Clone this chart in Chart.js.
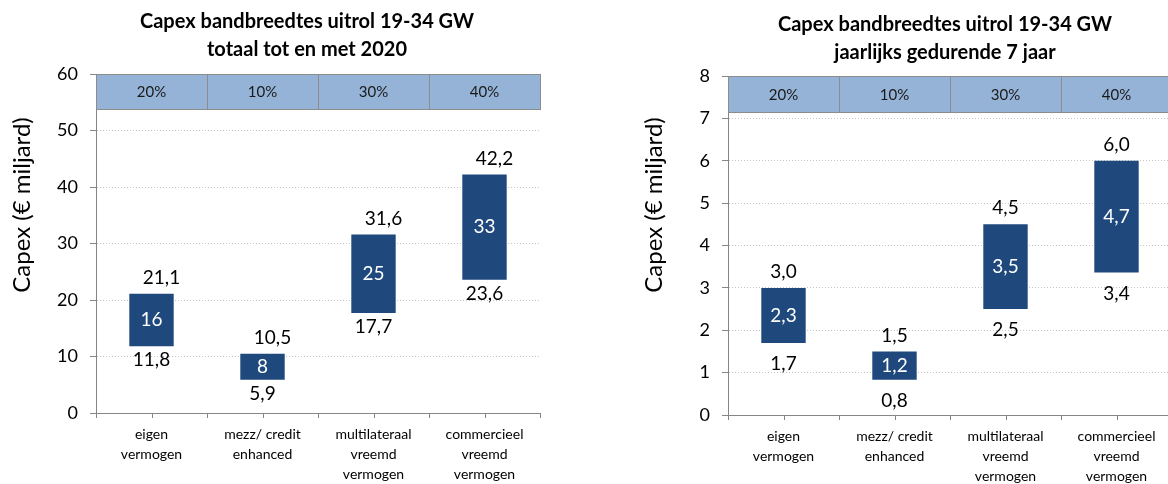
<!DOCTYPE html>
<html>
<head>
<meta charset="utf-8">
<script src="https://cdn.jsdelivr.net/npm/chart.js@4/dist/chart.umd.min.js"></script>
<style>
  html, body { margin: 0; padding: 0; width: 1168px; height: 484px; overflow: hidden; background: #fff; }
  body { position: relative; }
  .box { position: absolute; top: 0; height: 500px; }
</style>
</head>
<body>
<div class="box" style="left:0;width:584px"><canvas id="totalChart"></canvas></div>
<div class="box" style="left:632px;width:540px"><canvas id="yearChart"></canvas></div>
<script>
// categories and shares (same for both charts)
const categories = [
  ['eigen', 'vermogen'],
  ['mezz/ credit', 'enhanced'],
  ['multilateraal', 'vreemd', 'vermogen'],
  ['commercieel', 'vreemd', 'vermogen']
];
const shares = ['20%', '10%', '30%', '40%'];

// totaal tot en met 2020 (€ miljard)
const totalLow = [11.8, 5.9, 17.7, 23.6];
const totalHigh = [21.1, 10.5, 31.6, 42.2];
const totalMid = ['16', '8', '25', '33'];
const totalMax = 60;
const totalStep = 10;

// jaarlijks gedurende 7 jaar (€ miljard)
const yearLow = [1.7, 0.83, 2.5, 3.36];
const yearHigh = [3.0, 1.5, 4.5, 6.0];
const yearMid = ['2,3', '1,2', '3,5', '4,7'];
const yearMax = 8;
const yearStep = 1;

Chart.defaults.font.family = 'Lato';
Chart.defaults.color = '#000';

const axisGray = '#868686';

// comma decimals like the source
function fmt(v) {
  return v.toFixed(1).replace('.', ',');
}

// blue band with the shares on top of the plot
const shareBand = {
  id: 'shareBand',
  beforeDatasetsDraw(chart, args, o) {
    const { ctx, chartArea: a, scales: { x } } = chart;
    const w = a.width / o.labels.length;
    ctx.save();
    o.labels.forEach((t, i) => {
      const cx = x.getPixelForValue(i);
      ctx.fillStyle = '#95B3D7';
      ctx.fillRect(cx - w / 2, a.top, w, o.height);
      ctx.strokeStyle = '#8c8c8c';
      ctx.lineWidth = 1;
      ctx.strokeRect(Math.round(cx - w / 2) + 0.5, Math.round(a.top) + 0.5, w, o.height);
      ctx.fillStyle = '#1a1a1a';
      ctx.font = '15px Lato';
      ctx.textAlign = 'center';
      ctx.textBaseline = 'middle';
      ctx.fillText(t, cx, a.top + o.height / 2 + 1);
    });
    ctx.restore();
  }
};

// min / max / middle labels on the floating bars, plus tick marks under the bar centres
const barLabels = {
  id: 'barLabels',
  afterDatasetsDraw(chart, args, o) {
    const { ctx, chartArea: a } = chart;
    const meta = chart.getDatasetMeta(0);
    const data = chart.data.datasets[0].data;
    ctx.save();
    ctx.textAlign = 'center';
    ctx.textBaseline = 'middle';
    meta.data.forEach((bar, i) => {
      const top = Math.min(bar.y, bar.base);
      const bottom = Math.max(bar.y, bar.base);
      ctx.font = '19px Lato';
      ctx.fillStyle = '#000';
      ctx.fillText(fmt(data[i][1]), bar.x + o.dx, top - o.above);
      ctx.fillText(fmt(data[i][0]), bar.x, bottom + o.below);
      ctx.fillStyle = '#fff';
      ctx.fillText(o.mid[i], bar.x, (top + bottom) / 2);
      // small tick under the category centre
      ctx.strokeStyle = axisGray;
      ctx.lineWidth = 1;
      ctx.beginPath();
      ctx.moveTo(Math.round(bar.x) + 0.5, a.bottom);
      ctx.lineTo(Math.round(bar.x) + 0.5, a.bottom + 5);
      ctx.stroke();
    });
    ctx.restore();
  }
};

// chart title (two bold lines) and rotated y axis title
const titles = {
  id: 'titles',
  afterDraw(chart, args, o) {
    const { ctx, chartArea: a } = chart;
    ctx.save();
    ctx.fillStyle = '#000';
    ctx.textAlign = 'center';
    ctx.textBaseline = 'middle';
    ctx.font = 'bold 20px Lato';
    const cx = (a.left + a.right) / 2 + o.titleDx;
    o.title.forEach((line, i) => ctx.fillText(line, cx, o.titleTop + i * 28));
    ctx.translate(a.left - 74, a.top + o.axisDy);
    ctx.rotate(-Math.PI / 2);
    ctx.font = '24px Lato';
    ctx.fillText('Capex (€ miljard)', 0, 0);
    ctx.restore();
  }
};

function makeChart(id, title, low, high, mid, max, step, cfg) {
  const ctx = document.getElementById(id).getContext('2d');
  return new Chart(ctx, {
    type: 'bar',
    data: {
      labels: categories,
      datasets: [{
        data: low.map((v, i) => [v, high[i]]),
        backgroundColor: '#1F497D',
        borderWidth: 0,
        barPercentage: 0.4,
        categoryPercentage: 1
      }]
    },
    options: {
      responsive: true,
      maintainAspectRatio: false,
      animation: false,
      layout: { padding: { left: 0, right: cfg.padRight, top: cfg.plotTop, bottom: 0 } },
      plugins: {
        legend: { display: false },
        tooltip: { enabled: false },
        title: { display: false },
        shareBand: { labels: shares, height: cfg.bandHeight },
        barLabels: { mid: mid, dx: cfg.dx, above: cfg.above, below: cfg.below },
        titles: { title: title, titleDx: cfg.titleDx, titleTop: cfg.titleTop, axisDy: 205 - cfg.plotTop }
      },
      scales: {
        x: {
          afterFit(s) { s.height = cfg.xHeight; },
          border: { color: axisGray },
          grid: { drawOnChartArea: false, offset: true, tickLength: 5, color: axisGray, tickColor: axisGray },
          ticks: { font: { size: 14, lineHeight: 1.45 }, padding: 6, maxRotation: 0, autoSkip: false, color: '#000' }
        },
        y: {
          min: 0,
          max: max,
          afterFit(s) { s.width = 96; },
          border: { color: axisGray, dash: [1, 2] },
          grid: { color: '#c4c4c4', tickColor: axisGray, tickLength: 6, tickBorderDash: [] },
          ticks: { stepSize: step, font: { size: 18 }, padding: 12, color: '#000' }
        }
      }
    },
    plugins: [shareBand, barLabels, titles]
  });
}

makeChart('totalChart', ['Capex bandbreedtes uitrol 19-34 GW', 'totaal tot en met 2020'],
  totalLow, totalHigh, totalMid, totalMax, totalStep,
  { padRight: 44, plotTop: 74, titleTop: 22, titleDx: -11, bandHeight: 35, dx: 10, above: 16, below: 14, xHeight: 87 });

makeChart('yearChart', ['Capex bandbreedtes uitrol 19-34 GW', 'jaarlijks gedurende 7 jaar'],
  yearLow, yearHigh, yearMid, yearMax, yearStep,
  { padRight: 0, plotTop: 76, titleTop: 25, titleDx: -5, bandHeight: 36, dx: 0, above: 16, below: 21, xHeight: 85 });
</script>
</body>
</html>
